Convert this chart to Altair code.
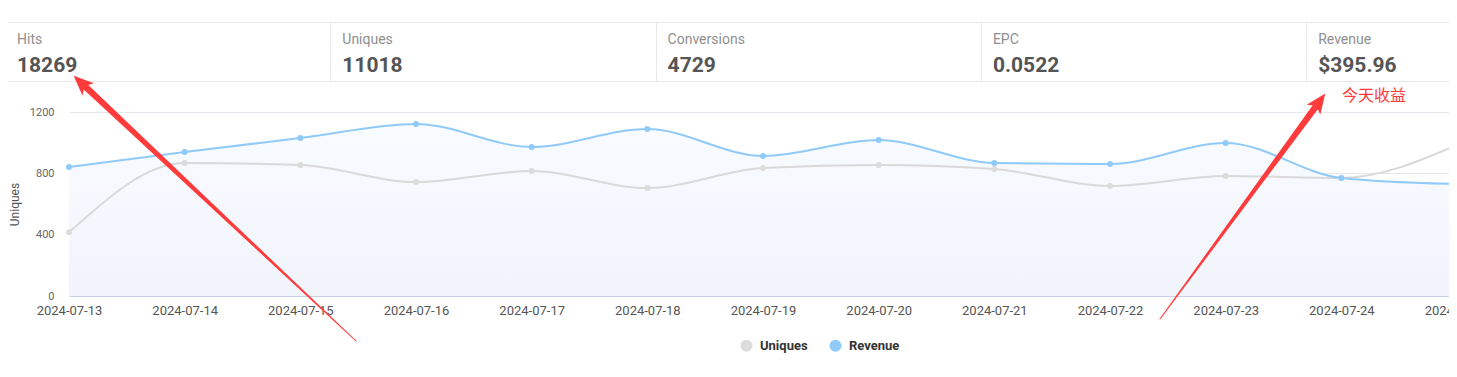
import math
import altair as alt
import pandas as pd

# ---------------- data ----------------
dates = ["2024-07-13", "2024-07-14", "2024-07-15", "2024-07-16", "2024-07-17",
         "2024-07-18", "2024-07-19", "2024-07-20", "2024-07-21", "2024-07-22",
         "2024-07-23", "2024-07-24", "2024-07-25"]
uniques = [415, 867, 854, 743, 815, 704, 835, 854, 828, 717, 783, 770, 985]
revenue = [841, 939, 1030, 1122, 972, 1089, 913, 1017, 867, 861, 998, 770, 730]
y_ticks = [0, 400, 800, 1200]
series_names = ["Uniques", "Revenue"]
series_colors = ["#dcdcdc", "#90caf9"]
stat_labels = ["Hits", "Uniques", "Conversions", "EPC", "Revenue"]
stat_values = ["18269", "11018", "4729", "0.0522", "$395.96"]
note_text = "今天收益"

# ---------------- layout (pixels) ----------------
FONT = "Roboto"
CANVAS_W, CANVAS_H = 1441, 361
PL, PT = 61, 104
W, H = CANVAS_W - PL, 184
X_RANGE = 1388                    # point scale runs past the visible canvas
OX, OY = 8 + PL, 8 + PT          # window position of plot origin
RED = "#ff3b3b"


def px(X):
    return X - OX


def py(Y):
    return Y - OY


wide = pd.DataFrame({"date": dates, "Uniques": uniques, "Revenue": revenue})
long = wide.melt("date", var_name="series", value_name="value")

xenc = alt.X(
    "date:O",
    scale=alt.Scale(type="point", padding=0, range=[0, X_RANGE]),
    axis=alt.Axis(labelAngle=0, title=None, labelFontSize=13, labelColor="#555",
                  labelPadding=8, ticks=False, tickSize=0, domainColor="#c8d0e6",
                  grid=False, labelOverlap=False, labelFont=FONT),
)
yscale = alt.Scale(domain=[0, 1200], nice=False)
yaxis = alt.Axis(values=y_ticks, format="d", ticks=False, tickSize=0, domain=False,
                 gridColor="#e4e7ee", labelFontSize=11, labelColor="#666",
                 labelPadding=15, titleFontSize=12, titleColor="#555",
                 titleFontWeight="normal", titlePadding=8, labelFont=FONT,
                 titleFont=FONT)


def yenc(field):
    return alt.Y(field, scale=yscale, axis=yaxis, title="Uniques")


area = alt.Chart(wide).mark_area(
    interpolate="monotone",
    color=alt.Gradient(gradient="linear",
                       stops=[alt.GradientStop(color="#f8fbff", offset=0),
                              alt.GradientStop(color="#f2f4fc", offset=1)],
                       x1=1, x2=1, y1=0, y2=1),
).encode(x=xenc, y=yenc("Revenue:Q"))

line_u = alt.Chart(wide).mark_line(interpolate="monotone", color="#d9d9d9",
                                   strokeWidth=2).encode(x=xenc, y=yenc("Uniques:Q"))
line_r = alt.Chart(wide).mark_line(interpolate="monotone", color=series_colors[1],
                                   strokeWidth=2).encode(x=xenc, y=yenc("Revenue:Q"))

points = alt.Chart(long).mark_point(filled=True, size=36, opacity=1).encode(
    x=xenc, y=yenc("value:Q"),
    color=alt.Color("series:N",
                    scale=alt.Scale(domain=series_names, range=series_colors),
                    legend=alt.Legend(title=None, orient="none", direction="horizontal",
                                      legendX=px(746) - 6, legendY=py(345) - 6,
                                      symbolType="circle", symbolSize=144,
                                      symbolStrokeWidth=0, labelFontSize=13,
                                      labelFontWeight="bold", labelColor="#333",
                                      labelFont=FONT, labelOffset=7,
                                      columnPadding=21, padding=0)),
)

main = alt.layer(area, line_u, line_r, points)

# ---------------- annotations ----------------
one = pd.DataFrame({"a": [0]})
ann = []

ann.append(alt.Chart(one).mark_rect(fill="white", stroke="#e8e8e8", strokeWidth=1).encode(
    x=alt.value(px(5.5)), x2=alt.value(px(1520)), y=alt.value(py(22.5)), y2=alt.value(py(81.5))))

box_w = 325.3
for i in range(1, 5):
    xd = round(5 + i * box_w) + 0.5
    ann.append(alt.Chart(one).mark_rule(color="#e8e8e8", strokeWidth=1).encode(
        x=alt.value(px(xd)), y=alt.value(py(22.5)), y2=alt.value(py(81.5))))

for i, (lab, val) in enumerate(zip(stat_labels, stat_values)):
    xl = 17 + i * box_w
    ann.append(alt.Chart(one).mark_text(text=lab, align="left", baseline="alphabetic",
                                        font=FONT, fontSize=14, color="#8f8f8f").encode(
        x=alt.value(px(xl)), y=alt.value(py(44))))
    ann.append(alt.Chart(one).mark_text(text=val, align="left", baseline="alphabetic",
                                        font=FONT, fontSize=21, fontWeight="bold",
                                        color="#555").encode(
        x=alt.value(px(xl)), y=alt.value(py(72))))

ann.append(alt.Chart(one).mark_text(text=note_text, align="left", baseline="middle",
                                    font="Noto Sans CJK SC", fontSize=16, color=RED).encode(
    x=alt.value(px(1342)), y=alt.value(py(96))))

# arrows: (tail, tip) in window pixels
arrows = [((356, 341), (74, 76)), ((1160, 319), (1325, 94))]
trail_rows, head_rows = [], []
for k, ((tx, ty), (hx, hy)) in enumerate(arrows):
    dx, dy = hx - tx, hy - ty
    L = math.hypot(dx, dy)
    ux, uy = dx / L, dy / L
    ex, ey = hx - ux * 13, hy - uy * 13
    trail_rows.append({"arrow": k, "o": 0, "px": px(tx), "py": py(ty), "w": 1.0})
    trail_rows.append({"arrow": k, "o": 1, "px": px(ex), "py": py(ey), "w": 6.5})
    cx, cy = hx - ux * 10, hy - uy * 10
    ang = math.degrees(math.atan2(ux, -uy)) % 360
    head_rows.append({"px": px(cx), "py": py(cy), "ang": ang})

trail = alt.Chart(pd.DataFrame(trail_rows)).mark_trail(color=RED).encode(
    x=alt.X("px:Q", scale=None, axis=None),
    y=alt.Y("py:Q", scale=None, axis=None),
    size=alt.Size("w:Q", scale=None, legend=None),
    detail="arrow:N",
    order="o:Q",
)
heads = alt.Chart(pd.DataFrame(head_rows)).mark_point(
    shape="M0,-1 L0.8,0.9 L0,0.45 L-0.8,0.9 Z", filled=True, size=440,
    color=RED, opacity=1, strokeWidth=0).encode(
    x=alt.X("px:Q", scale=None, axis=None),
    y=alt.Y("py:Q", scale=None, axis=None),
    angle=alt.Angle("ang:Q", scale=None),
)
ann.extend([trail, heads])

annot = alt.layer(*ann)

chart = alt.layer(main, annot).resolve_scale(
    x="independent", y="independent", size="independent", angle="independent"
).properties(
    width=W, height=H,
    padding={"left": PL, "top": PT, "right": 0, "bottom": CANVAS_H - PT - H},
    autosize=alt.AutoSizeParams(type="none"),
    background="white",
).configure(font=FONT).configure_view(stroke=None)

chart.save("out.html", embed_options={"renderer": "svg", "actions": False})
